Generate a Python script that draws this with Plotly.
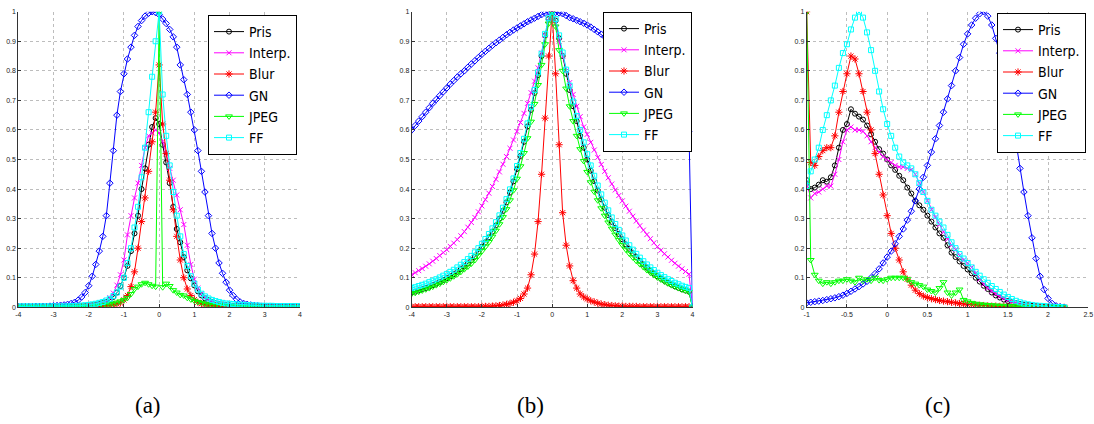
import numpy as np
import plotly.graph_objects as go

# ---------------- data ----------------
xa = [round(-4 + 0.1 * i, 1) for i in range(81)]
xb = [round(-4 + 0.1 * i, 1) for i in range(81)]
xc = [round(-1 + 0.05 * i, 2) for i in range(65)]

series_names = ["Pris", "Interp.", "Blur", "GN", "JPEG", "FF"]

# panel (a)
pris_a = [0.002]*10 + [0.002,0.002,0.002,0.002,0.002,0.003,0.003,0.004,0.004,0.005] + \
    [0.006,0.007,0.009,0.011,0.014,0.018,0.025,0.035,0.05,0.072] + \
    [0.10,0.14,0.19,0.25,0.31,0.40,0.47,0.55,0.61,0.64] + \
    [0.62,0.55,0.49,0.42,0.34,0.265,0.22,0.17,0.125,0.098] + \
    [0.074,0.054,0.04,0.03,0.024,0.018,0.014,0.011,0.009,0.007] + \
    [0.006,0.005,0.005,0.004,0.004,0.003,0.003,0.003,0.002,0.002] + [0.002]*11
interp_a = [0.002]*10 + [0.002,0.002,0.002,0.002,0.003,0.003,0.003,0.004,0.004,0.005] + \
    [0.005,0.006,0.008,0.011,0.015,0.022,0.032,0.048,0.075,0.11] + \
    [0.16,0.245,0.31,0.37,0.42,0.48,0.54,0.58,0.59,0.60] + \
    [0.59,0.56,0.52,0.47,0.43,0.38,0.33,0.28,0.21,0.145] + \
    [0.095,0.065,0.046,0.034,0.027,0.02,0.015,0.012,0.009,0.007] + \
    [0.006,0.005,0.004,0.004,0.003,0.003,0.003,0.002,0.002,0.002] + [0.002]*11
blur_a = [0.001]*10 + [0.001,0.001,0.001,0.001,0.001,0.002,0.002,0.002,0.002,0.002] + \
    [0.003,0.003,0.003,0.004,0.004,0.005,0.006,0.008,0.011,0.015] + \
    [0.025,0.04,0.07,0.12,0.2,0.29,0.37,0.46,0.56,0.66] + \
    [0.82,0.62,0.52,0.43,0.33,0.24,0.16,0.1,0.062,0.04] + \
    [0.026,0.017,0.012,0.009,0.007,0.005,0.004,0.003,0.003,0.002] + \
    [0.002]*10 + [0.001]*11
gn_a = [0.002,0.002,0.002,0.002,0.002,0.003,0.003,0.003,0.003,0.004] + \
    [0.005,0.006,0.007,0.008,0.01,0.013,0.017,0.024,0.035,0.05] + \
    [0.073,0.105,0.145,0.19,0.24,0.31,0.42,0.53,0.65,0.73] + \
    [0.79,0.84,0.88,0.92,0.95,0.97,0.985,0.995,1.0,0.997] + \
    [0.99,0.975,0.96,0.94,0.915,0.88,0.82,0.77,0.72,0.66] + \
    [0.60,0.53,0.46,0.39,0.31,0.25,0.20,0.15,0.115,0.085] + \
    [0.058,0.04,0.027,0.018,0.013,0.01,0.008,0.006,0.005,0.004] + \
    [0.003,0.003,0.003,0.002,0.002,0.002,0.002,0.002,0.002,0.002,0.002]
jpeg_a = [0.001]*10 + [0.001,0.001,0.001,0.001,0.002,0.002,0.002,0.002,0.003,0.003] + \
    [0.003,0.004,0.005,0.006,0.007,0.009,0.011,0.013,0.016,0.02] + \
    [0.025,0.032,0.045,0.062,0.07,0.078,0.083,0.078,0.073,0.07] + \
    [1.0,0.068,0.08,0.072,0.058,0.05,0.042,0.04,0.032,0.027] + \
    [0.022,0.018,0.015,0.012,0.01,0.009,0.008,0.007,0.006,0.005] + \
    [0.004,0.004,0.003,0.003,0.003,0.002,0.002,0.002,0.002,0.002] + [0.001]*11
ff_a = [0.003]*10 + [0.003,0.003,0.003,0.003,0.003,0.004,0.004,0.005,0.006,0.007] + \
    [0.008,0.01,0.012,0.015,0.018,0.023,0.029,0.038,0.05,0.07] + \
    [0.1,0.15,0.2,0.27,0.34,0.44,0.54,0.66,0.78,0.9] + \
    [1.0,0.72,0.58,0.48,0.39,0.31,0.24,0.18,0.14,0.105] + \
    [0.08,0.06,0.046,0.037,0.03,0.025,0.021,0.018,0.015,0.013] + \
    [0.012,0.011,0.01,0.009,0.008,0.007,0.007,0.006,0.006,0.005] + \
    [0.005,0.005,0.005,0.004,0.004,0.004,0.004,0.004,0.004,0.004,0.004]

# panel (b)
pris_b = [0.05,0.053,0.057,0.061,0.065,0.07,0.075,0.08,0.086,0.092] + \
    [0.098,0.105,0.112,0.12,0.129,0.138,0.148,0.159,0.171,0.188] + \
    [0.205,0.22,0.237,0.256,0.277,0.3,0.326,0.355,0.388,0.426] + \
    [0.468,0.512,0.56,0.612,0.668,0.725,0.785,0.85,0.92,0.975] + \
    [1.0,0.97,0.91,0.85,0.79,0.735,0.68,0.63,0.58,0.54] + \
    [0.5,0.462,0.427,0.395,0.365,0.337,0.312,0.289,0.268,0.248] + \
    [0.23,0.213,0.198,0.183,0.17,0.157,0.145,0.134,0.124,0.114] + \
    [0.105,0.097,0.09,0.083,0.077,0.071,0.066,0.061,0.057,0.053,0.0]
interp_b = [0.11,0.117,0.124,0.131,0.139,0.147,0.156,0.165,0.175,0.185] + \
    [0.195,0.206,0.217,0.229,0.242,0.256,0.271,0.287,0.304,0.323] + \
    [0.343,0.364,0.386,0.409,0.433,0.458,0.484,0.51,0.538,0.566] + \
    [0.595,0.625,0.656,0.69,0.726,0.765,0.81,0.86,0.92,0.97] + \
    [1.0,0.96,0.9,0.85,0.8,0.76,0.72,0.68,0.645,0.61] + \
    [0.585,0.558,0.532,0.507,0.483,0.46,0.438,0.417,0.397,0.378] + \
    [0.36,0.342,0.325,0.308,0.292,0.276,0.261,0.246,0.232,0.218] + \
    [0.205,0.193,0.181,0.17,0.159,0.149,0.139,0.13,0.121,0.112,0.0]
blur_b = [0.002]*20 + \
    [0.003,0.003,0.003,0.004,0.005,0.006,0.008,0.01,0.013,0.017] + \
    [0.022,0.03,0.045,0.065,0.11,0.18,0.29,0.45,0.64,0.85] + \
    [1.0,0.79,0.55,0.32,0.21,0.14,0.09,0.065,0.045,0.035] + \
    [0.028,0.022,0.018,0.014,0.011,0.009,0.007,0.006,0.005,0.004] + \
    [0.004,0.003,0.003,0.003,0.003,0.002,0.002,0.002,0.002,0.002] + [0.002]*10 + [0.0]
gn_b = [0.60,0.615,0.63,0.645,0.66,0.675,0.69,0.703,0.716,0.729] + \
    [0.742,0.755,0.767,0.779,0.79,0.80,0.812,0.823,0.834,0.845] + \
    [0.856,0.866,0.876,0.886,0.895,0.904,0.913,0.922,0.93,0.938] + \
    [0.945,0.952,0.959,0.966,0.972,0.978,0.984,0.99,0.995,1.0] + \
    [0.999,0.998,0.996,0.993,0.987,0.98,0.976,0.971,0.966,0.961] + \
    [0.955,0.948,0.94,0.932,0.924,0.915,0.906,0.897,0.888,0.879] + \
    [0.87,0.858,0.845,0.832,0.818,0.804,0.79,0.775,0.76,0.745] + \
    [0.73,0.715,0.7,0.685,0.67,0.655,0.64,0.625,0.61,0.595,0.0]
jpeg_b = [0.046,0.049,0.053,0.057,0.061,0.065,0.07,0.075,0.08,0.086] + \
    [0.092,0.098,0.105,0.112,0.12,0.129,0.138,0.148,0.16,0.175] + \
    [0.19,0.205,0.221,0.239,0.259,0.281,0.305,0.332,0.362,0.396] + \
    [0.435,0.477,0.522,0.572,0.628,0.688,0.752,0.82,0.89,0.96] + \
    [1.0,0.95,0.87,0.8,0.74,0.68,0.63,0.58,0.535,0.495] + \
    [0.458,0.423,0.391,0.362,0.335,0.31,0.287,0.266,0.246,0.228] + \
    [0.211,0.196,0.182,0.169,0.157,0.146,0.136,0.126,0.117,0.109] + \
    [0.101,0.094,0.087,0.081,0.075,0.07,0.065,0.06,0.056,0.052,0.0]
ff_b = [0.065,0.068,0.072,0.076,0.08,0.085,0.09,0.095,0.101,0.107] + \
    [0.113,0.12,0.127,0.135,0.144,0.153,0.163,0.174,0.186,0.2] + \
    [0.215,0.231,0.248,0.267,0.288,0.311,0.337,0.366,0.399,0.436] + \
    [0.478,0.522,0.57,0.622,0.678,0.735,0.795,0.858,0.925,0.978] + \
    [1.0,0.975,0.92,0.862,0.804,0.75,0.696,0.647,0.6,0.558] + \
    [0.518,0.48,0.445,0.412,0.382,0.354,0.328,0.304,0.282,0.262] + \
    [0.243,0.226,0.21,0.195,0.181,0.168,0.156,0.145,0.135,0.126] + \
    [0.117,0.109,0.102,0.095,0.089,0.083,0.078,0.073,0.069,0.065,0.0]

# panel (c)
pris_c = [0.43,0.40,0.405,0.415,0.43,0.425,0.44,0.48,0.54,0.6] + \
    [0.62,0.67,0.655,0.645,0.635,0.615,0.585,0.56,0.535,0.52] + \
    [0.5,0.48,0.465,0.445,0.43,0.405,0.385,0.36,0.345,0.33] + \
    [0.31,0.29,0.27,0.25,0.235,0.21,0.185,0.17,0.155,0.14] + \
    [0.128,0.115,0.1,0.087,0.073,0.062,0.05,0.04,0.033,0.026] + \
    [0.021,0.017,0.014,0.011,0.009,0.007,0.005,0.004,0.003,0.002] + \
    [0.001,0.001,0.0,0.0,0.0]
interp_c = [0.42,0.37,0.385,0.39,0.4,0.41,0.41,0.45,0.5,0.56] + \
    [0.6,0.61,0.6,0.6,0.595,0.58,0.56,0.54,0.525,0.51] + \
    [0.5,0.49,0.48,0.475,0.475,0.47,0.465,0.45,0.42,0.39] + \
    [0.36,0.33,0.305,0.28,0.255,0.23,0.21,0.195,0.175,0.16] + \
    [0.15,0.135,0.115,0.095,0.078,0.065,0.055,0.045,0.037,0.03] + \
    [0.024,0.019,0.015,0.012,0.009,0.007,0.005,0.004,0.003,0.002] + \
    [0.001,0.0,0.0,0.0,0.0]
blur_c = [1.0,0.49,0.48,0.51,0.53,0.54,0.54,0.58,0.66,0.73] + \
    [0.79,0.85,0.84,0.79,0.73,0.66,0.6,0.52,0.45,0.38] + \
    [0.31,0.25,0.2,0.16,0.12,0.095,0.075,0.058,0.046,0.038] + \
    [0.033,0.029,0.026,0.023,0.021,0.019,0.017,0.015,0.013,0.011] + \
    [0.01,0.009,0.008,0.007,0.006,0.005,0.004,0.004,0.003,0.003] + \
    [0.002,0.002,0.002,0.001,0.001,0.001,0.001,0.0,0.0,0.0] + \
    [0.0,0.0,0.0,0.0,0.0]
gn_c = [0.015,0.017,0.019,0.021,0.023,0.026,0.029,0.032,0.036,0.041] + \
    [0.047,0.054,0.062,0.07,0.079,0.088,0.1,0.114,0.13,0.15] + \
    [0.17,0.19,0.215,0.24,0.265,0.295,0.325,0.36,0.4,0.44] + \
    [0.48,0.525,0.57,0.615,0.66,0.705,0.75,0.8,0.845,0.89] + \
    [0.925,0.955,0.978,0.993,1.0,0.985,0.955,0.91,0.86,0.79] + \
    [0.72,0.64,0.56,0.47,0.39,0.31,0.235,0.165,0.105,0.06] + \
    [0.03,0.013,0.005,0.002,0.0]
jpeg_c = [1.0,0.16,0.11,0.09,0.08,0.085,0.08,0.085,0.09,0.09] + \
    [0.095,0.09,0.085,0.1,0.09,0.095,0.09,0.1,0.092,0.09] + \
    [0.095,0.1,0.1,0.1,0.1,0.095,0.085,0.08,0.075,0.07] + \
    [0.06,0.055,0.05,0.065,0.085,0.05,0.04,0.05,0.06,0.025] + \
    [0.02,0.015,0.012,0.01,0.009,0.008,0.007,0.006,0.005,0.005] + \
    [0.004,0.004,0.003,0.003,0.002,0.002,0.002,0.001,0.001,0.001] + \
    [0.0,0.0,0.0,0.0,0.0]
ff_c = [0.41,0.46,0.5,0.54,0.6,0.65,0.7,0.75,0.81,0.86] + \
    [0.89,0.94,0.98,1.0,0.98,0.93,0.87,0.8,0.73,0.67] + \
    [0.62,0.58,0.54,0.51,0.49,0.48,0.47,0.45,0.42,0.39] + \
    [0.36,0.33,0.31,0.29,0.27,0.245,0.22,0.2,0.18,0.165] + \
    [0.15,0.135,0.12,0.107,0.095,0.083,0.072,0.062,0.052,0.043] + \
    [0.035,0.028,0.022,0.017,0.013,0.01,0.008,0.006,0.005,0.004] + \
    [0.003,0.002,0.001,0.001,0.0]

panel_labels = ["(a)", "(b)", "(c)"]
yticks = [0, 0.1, 0.2, 0.3, 0.4, 0.5, 0.6, 0.7, 0.8, 0.9, 1]
ytick_text = ["0", "0.1", "0.2", "0.3", "0.4", "0.5", "0.6", "0.7", "0.8", "0.9", "1"]
xticks_ab = [-4, -3, -2, -1, 0, 1, 2, 3, 4]
xticks_c = [-1, -0.5, 0, 0.5, 1, 1.5, 2, 2.5]
xtick_text_c = ["-1", "-0.5", "0", "0.5", "1", "1.5", "2", "2.5"]

# ---------------- styles ----------------
colors = ["#000000", "#ff00ff", "#ff0000", "#0000ff", "#00ff00", "#00ffff"]
symbols = ["circle-open", "x-thin-open", "asterisk-open", "diamond-open",
           "triangle-down-open", "square-open"]
msizes = [5, 5, 6, 5, 6, 5]

W, H = 1094, 424
def px_x(p):
    return p / W
def px_y(p):
    return 1 - p / H

fig = go.Figure()
panels = [
    (xa, [pris_a, interp_a, blur_a, gn_a, jpeg_a, ff_a], "x", "y", "legend"),
    (xb, [pris_b, interp_b, blur_b, gn_b, jpeg_b, ff_b], "x2", "y2", "legend2"),
    (xc, [pris_c, interp_c, blur_c, gn_c, jpeg_c, ff_c], "x3", "y3", "legend3"),
]
for xs, ys_list, xax, yax, leg in panels:
    for k, ys in enumerate(ys_list):
        fig.add_trace(go.Scatter(
            x=xs, y=ys, mode="lines+markers", name=series_names[k],
            xaxis=xax, yaxis=yax, legend=leg,
            line=dict(color=colors[k], width=1),
            marker=dict(symbol=symbols[k], size=msizes[k], color=colors[k],
                        line=dict(color=colors[k], width=1)),
        ))

ydom = [px_y(307.3), px_y(11.7)]
xdoms = [[px_x(18.3), px_x(300.0)], [px_x(411.7), px_x(692.5)], [px_x(806.7), px_x(1088.3)]]
tickfont = dict(family="Liberation Sans, Arial, sans-serif", size=7, color="#222")
grid = dict(showgrid=True, gridcolor="#bdbdbd", griddash="dot", gridwidth=1,
            zeroline=False, showline=True, linecolor="#333", linewidth=1,
            ticks="inside", ticklen=3, tickcolor="#333", tickfont=tickfont,
            automargin=False)

axes = {}
for i, dom in enumerate(xdoms):
    sfx = "" if i == 0 else str(i + 1)
    if i < 2:
        xr = [-4, 4]; tv = xticks_ab; tt = [str(v) for v in xticks_ab]
    else:
        xr = [-1, 2.5]; tv = xticks_c; tt = xtick_text_c
    axes["xaxis" + sfx] = dict(domain=dom, range=xr, tickvals=tv, ticktext=tt,
                               anchor="y" + sfx, **grid)
    axes["yaxis" + sfx] = dict(domain=ydom, range=[0, 1], tickvals=yticks,
                               ticktext=ytick_text, anchor="x" + sfx, **grid)

legfont = dict(family="Liberation Sans Narrow, Arial Narrow, DejaVu Sans Condensed, Liberation Sans, Arial, sans-serif",
               size=14, color="#000")
legpos = [(297, 15), (692, 12), (1086, 13)]
legs = {}
for i, (lx, ly) in enumerate(legpos):
    key = "legend" if i == 0 else "legend" + str(i + 1)
    legs[key] = dict(x=px_x(lx), y=px_y(ly), xanchor="right", yanchor="top",
                     bgcolor="white", bordercolor="#000", borderwidth=1,
                     font=legfont, itemwidth=30, tracegroupgap=0)

label_x = [148, 530, 938]
annotations = [dict(text=panel_labels[i], x=px_x(label_x[i]), y=px_y(405), xref="paper",
                    yref="paper", showarrow=False, xanchor="center", yanchor="middle",
                    font=dict(family="Liberation Serif, DejaVu Serif, serif", size=23, color="#000"))
               for i in range(3)]

fig.update_layout(width=W, height=H, margin=dict(l=0, r=0, t=0, b=0),
                  paper_bgcolor="white", plot_bgcolor="white", showlegend=True,
                  hovermode=False, annotations=annotations, **axes, **legs)
fig.write_html("out.html", config={"displayModeBar": False, "staticPlot": True},
               post_script="document.body.style.margin='0';")
